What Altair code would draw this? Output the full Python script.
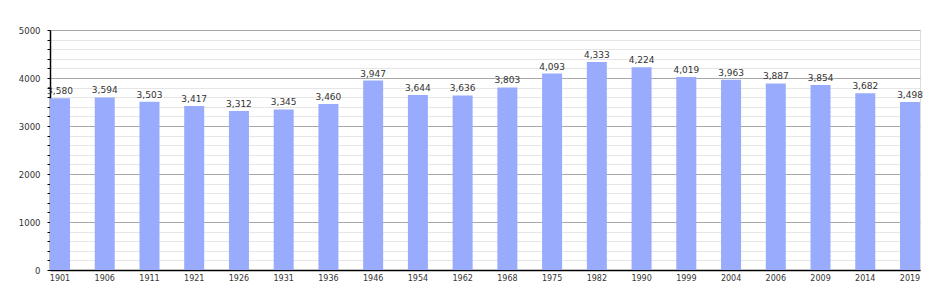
import altair as alt
import pandas as pd

years = ["1901", "1906", "1911", "1921", "1926", "1931", "1936", "1946", "1954", "1962",
         "1968", "1975", "1982", "1990", "1999", "2004", "2006", "2009", "2014", "2019"]
population = [3580, 3594, 3503, 3417, 3312, 3345, 3460, 3947, 3644, 3636,
              3803, 4093, 4333, 4224, 4019, 3963, 3887, 3854, 3682, 3498]
y_ticks = list(range(0, 5001, 200))

df = pd.DataFrame({"year": years, "pop": population})

FONT = "DejaVu Sans"

x_scale = alt.Scale(paddingInner=0.553, paddingOuter=0)
y_scale = alt.Scale(domain=[0, 5000], nice=False)

x_enc = alt.X("year:N", sort=None, title=None, scale=x_scale,
              axis=alt.Axis(labelAngle=0, labelFontSize=8, labelFont=FONT, labelColor="#333333",
                            domainColor="#000000", domainWidth=1.5, ticks=False, labelPadding=4,
                            grid=False))

y_enc = alt.Y("pop:Q", title=None, scale=y_scale,
              axis=alt.Axis(values=y_ticks,
                            labelExpr="datum.value % 1000 === 0 ? datum.value : ''",
                            labelFontSize=8.5, labelFont=FONT, labelColor="#333333",
                            domainColor="#000000", domainWidth=1.5,
                            tickColor="#000000", tickSize=3, labelPadding=7,
                            grid=True,
                            gridColor={"condition": {"test": "datum.value % 1000 === 0", "value": "#a8a8a8"},
                                       "value": "#e6e6e6"},
                            labelOverlap=False))

base = alt.Chart(df).encode(x=x_enc, y=y_enc)

bars = base.mark_bar(color="#98abfc")

labels = base.mark_text(baseline="bottom", dy=-2, fontSize=9, font=FONT, color="#333333").encode(
    text=alt.Text("pop:Q", format=","),
)

chart = alt.layer(bars, labels).properties(
    width=870, height=240,
    autosize=alt.AutoSizeParams(type="none"),
    padding={"left": 50, "top": 30, "right": 30, "bottom": 30},
).configure_view(stroke=None).configure(background="#ffffff")

chart.save("out.html", embed_options={"renderer": "svg", "actions": False})
